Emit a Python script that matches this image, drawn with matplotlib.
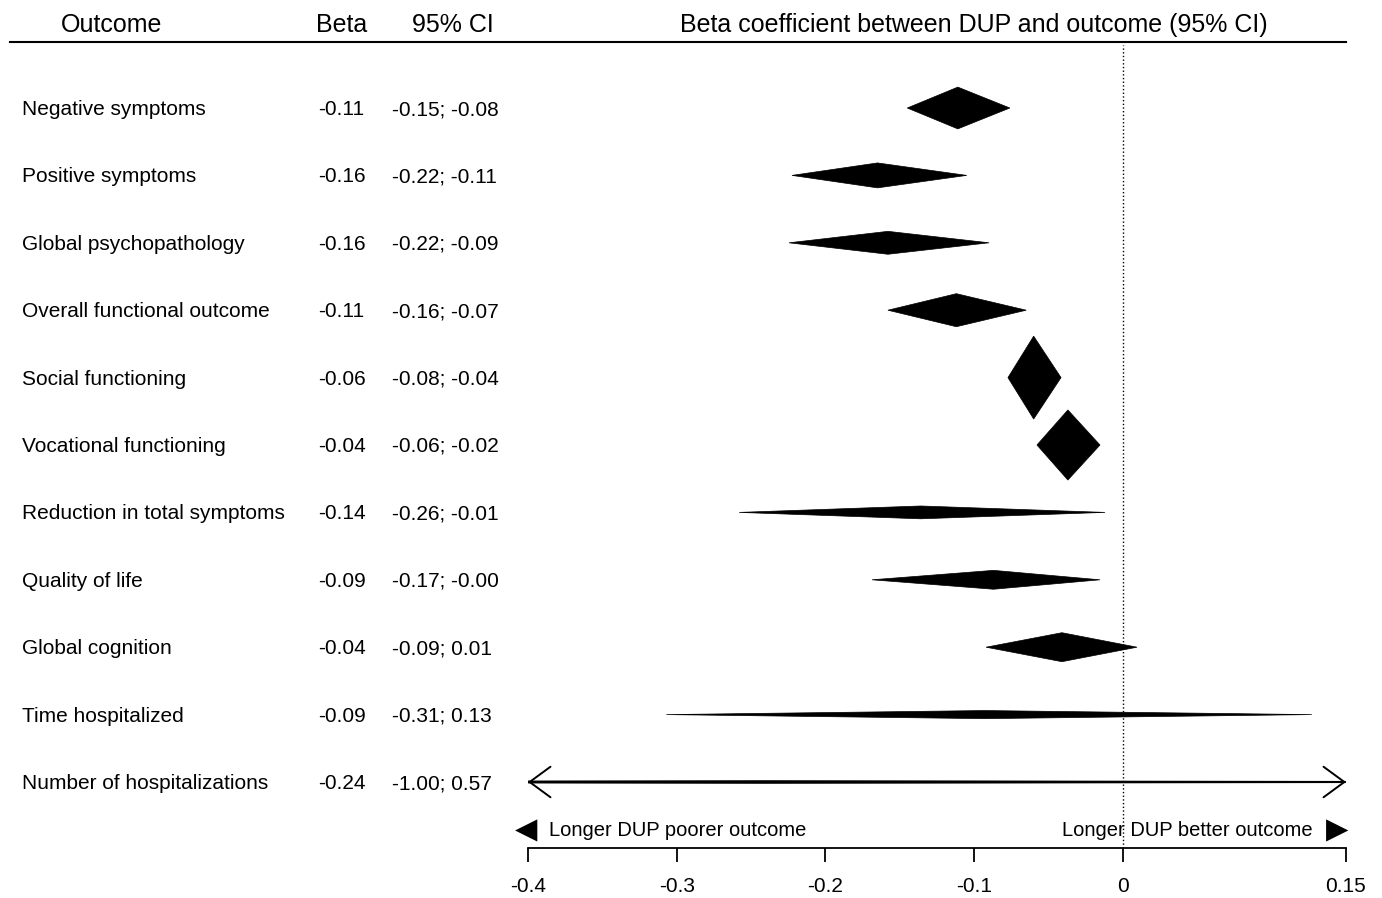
import matplotlib
matplotlib.use('Agg')
import matplotlib.pyplot as plt
from matplotlib.lines import Line2D
from matplotlib.transforms import blended_transform_factory, offset_copy

outcomes = ['Negative symptoms', 'Positive symptoms', 'Global psychopathology',
            'Overall functional outcome', 'Social functioning', 'Vocational functioning',
            'Reduction in total symptoms', 'Quality of life', 'Global cognition',
            'Time hospitalized', 'Number of hospitalizations']
beta_txt = ['-0.11', '-0.16', '-0.16', '-0.11', '-0.06', '-0.04',
            '-0.14', '-0.09', '-0.04', '-0.09', '-0.24']
ci_txt = ['-0.15; -0.08', '-0.22; -0.11', '-0.22; -0.09', '-0.16; -0.07', '-0.08; -0.04',
          '-0.06; -0.02', '-0.26; -0.01', '-0.17; -0.00', '-0.09; 0.01', '-0.31; 0.13',
          '-1.00; 0.57']

# diamond geometry
beta = [-0.111, -0.165, -0.158, -0.112, -0.060, -0.037, -0.136, -0.087, -0.041, -0.093, -0.24]
lo = [-0.145, -0.2225, -0.2245, -0.158, -0.0773, -0.0578, -0.258, -0.1687, -0.092, -0.307, -1.00]
hi = [-0.076, -0.105, -0.090, -0.065, -0.0416, -0.0154, -0.012, -0.0154, 0.0095, 0.127, 0.57]
weight = [0.62, 0.37, 0.34, 0.49, 1.23, 1.04, 0.19, 0.28, 0.43, 0.12, 0.04]

xticks = [-0.4, -0.3, -0.2, -0.1, 0, 0.15]
xtick_labels = ['-0.4', '-0.3', '-0.2', '-0.1', '0', '0.15']

plt.rcParams['font.family'] = ['Liberation Sans', 'DejaVu Sans']

W, H = 1382, 898
fig = plt.figure(figsize=(W / 100, H / 100), dpi=100)


def fx(px):
    return px / W


def fy(py):
    return 1 - py / H


row0, step = 108, 67.4
ax_top, ax_bot = 42, 848
ax = fig.add_axes([fx(528), fy(ax_bot), fx(1346) - fx(528), (ax_bot - ax_top) / H])
ax.set_xlim(-0.4, 0.15)
ax.set_ylim((ax_bot - row0) / step, (ax_top - row0) / step)

for s in ['top', 'right', 'left']:
    ax.spines[s].set_visible(False)
ax.spines['bottom'].set_linewidth(1.3)
ax.set_yticks([])
ax.set_xticks(xticks)
ax.set_xticklabels(xtick_labels)
ax.tick_params(axis='x', length=10, width=1.3, pad=11, labelsize=15)

for i in range(len(outcomes)):
    h = weight[i] / 2
    ax.fill([lo[i], beta[i], hi[i], beta[i]], [i, i - h, i, i + h],
            color='black', lw=0.5, ec='black')

last = len(outcomes) - 1
ax.annotate('', xy=(-0.4, last), xytext=(0.15, last),
            arrowprops=dict(arrowstyle='<->, head_length=0.75, head_width=0.55',
                            mutation_scale=20, lw=1.4, color='black',
                            shrinkA=0, shrinkB=0))

ax.axvline(0, ymin=0, ymax=1 - 3 / (ax_bot - ax_top), color='black', ls=':', lw=1)

# table columns, nudged down a little to sit on the row centre
trans = offset_copy(blended_transform_factory(fig.transFigure, ax.transData),
                    fig=fig, y=-1.5, units='dots')
for i in range(len(outcomes)):
    ax.text(fx(22), i, outcomes[i], transform=trans, ha='left', va='center', fontsize=15)
    ax.text(fx(318), i, beta_txt[i], transform=trans, ha='left', va='center', fontsize=15)
    ax.text(fx(392), i, ci_txt[i], transform=trans, ha='left', va='center', fontsize=15)

# headers
hy = fy(25)
fig.text(fx(112), hy, 'Outcome', ha='center', va='center', fontsize=18)
fig.text(fx(342), hy, 'Beta', ha='center', va='center', fontsize=18)
fig.text(fx(453), hy, '95% CI', ha='center', va='center', fontsize=18)
fig.text(fx(974), hy, 'Beta coefficient between DUP and outcome (95% CI)',
         ha='center', va='center', fontsize=18)
fig.add_artist(Line2D([fx(10), fx(1346)], [fy(42), fy(42)], color='black', lw=1.5))

# direction labels
ly = fy(830)
fig.text(fx(515), ly, '\u25c0', ha='left', va='center', fontsize=21, family='DejaVu Sans')
fig.text(fx(549), ly, 'Longer DUP poorer outcome', ha='left', va='center', fontsize=14.5)
fig.text(fx(1313), ly, 'Longer DUP better outcome', ha='right', va='center', fontsize=14.5)
fig.text(fx(1348), ly, '\u25b6', ha='right', va='center', fontsize=21, family='DejaVu Sans')

fig.savefig('out.png', dpi=100)
